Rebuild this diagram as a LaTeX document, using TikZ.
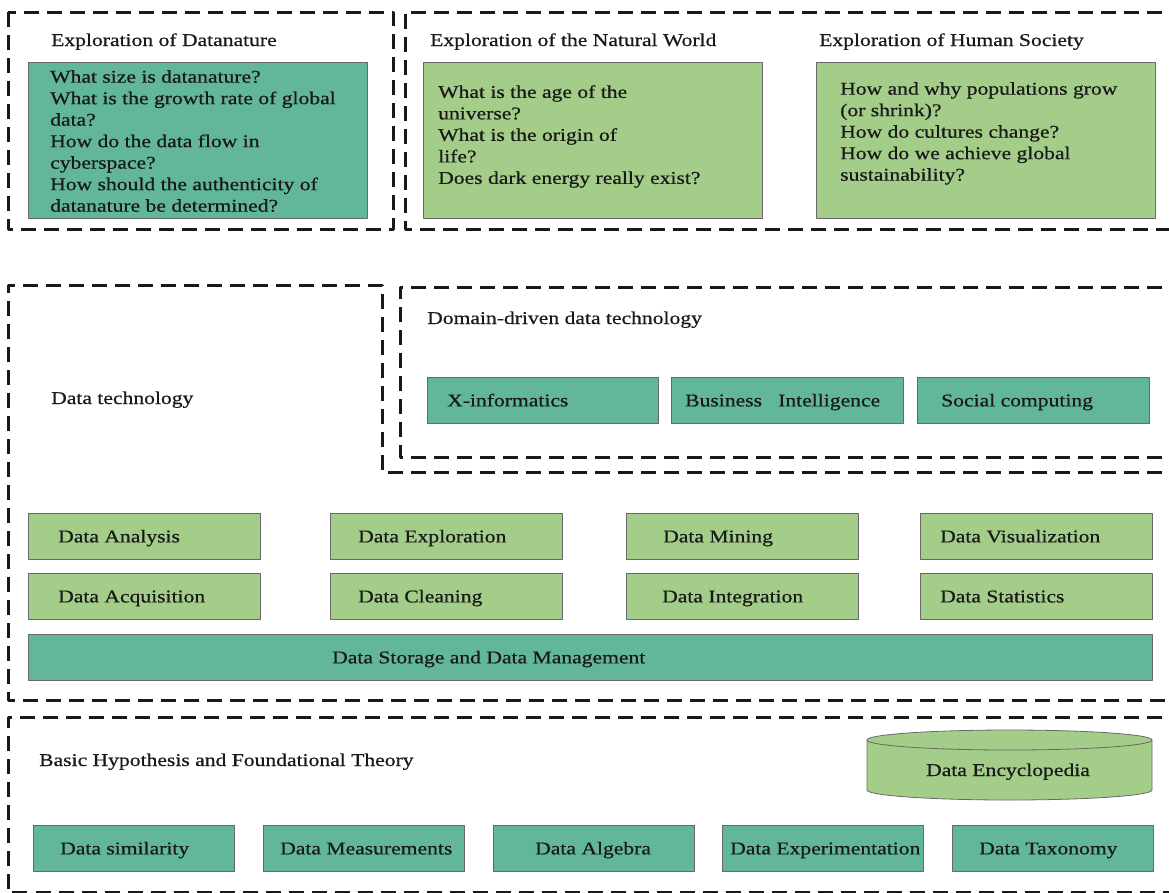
\documentclass[tikz,border=0pt]{standalone}
\usepackage{fontspec}
\setmainfont{Liberation Serif}[FakeStretch=1.2, FakeBold=0.6]
\definecolor{tealfill}{RGB}{97,183,151}
\definecolor{greenfill}{RGB}{163,205,136}
\definecolor{boxedge}{RGB}{105,105,105}
\definecolor{inkc}{RGB}{25,25,25}
\begin{document}
\begin{tikzpicture}[x=1pt, y=-1pt, line join=round,
	font=\fontsize{18}{21.5}\selectfont, text=inkc,
	frame/.style={line width=3pt, dash pattern=on 15pt off 8pt, draw=inkc},
	cell/.style={draw=boxedge, line width=0.8pt, anchor=north west, inner sep=0pt, minimum height=46pt},
	tcell/.style={cell, fill=tealfill},
	gcell/.style={cell, fill=greenfill},
	head/.style={anchor=west, inner sep=0pt, text height=12pt, text depth=0pt},
	qtext/.style={anchor=north west, align=left, inner sep=0pt}]
	\path[use as bounding box, clip] (0,0) rectangle (1169,892);
	% dashed frames
	\draw[frame] (8,12) rectangle (393,229);
	\draw[frame] (1185,12) -- (405,12) -- (405,229) -- (1185,229);
	\draw[frame] (1185,472) -- (382,472) -- (382,285) -- (8,285) -- (8,700) -- (1185,700);
	\draw[frame] (1185,287) -- (400,287) -- (400,457) -- (1185,457);
	\draw[frame] (1185,717) -- (8,717) -- (8,892.5) -- (1185,892.5);
	% top row
	\node[head] (hdata) at (51,40) {Exploration of Datanature};
	\node[head] (hnature) at (430,40) {Exploration of the Natural World};
	\node[head] (hsociety) at (819,40) {Exploration of Human Society};
	\node[tcell, minimum width=339pt, minimum height=156pt] (qdata) at (28,62) {};
	\node[gcell, minimum width=339pt, minimum height=156pt] (qnature) at (423,62) {};
	\node[gcell, minimum width=339pt, minimum height=156pt] (qsociety) at (816,62) {};
	\node[qtext] (qdatat) at (50,70) {What size is datanature?\\What is the growth rate of global\\data?\\How do the data flow in\\cyberspace?\\How should the authenticity of\\datanature be determined?};
	\node[qtext] (qnaturet) at (438,85) {What is the age of the\\universe?\\What is the origin of\\life?\\Does dark energy really exist?};
	\node[qtext] (qsocietyt) at (840,82) {How and why populations grow\\(or shrink)?\\How do cultures change?\\How do we achieve global\\sustainability?};
	% data technology
	\node[head] (htech) at (51,398) {Data technology};
	\node[head] (hdomain) at (427,318) {Domain-driven data technology};
	\foreach \n/\x/\y/\w/\i/\t in {xinf/427/377/231/20/X-informatics, busi/671/377/232/14/Business\ \ \ Intelligence, soci/917/377/232/24/Social computing,
		stor/28/634/1124/304/Data Storage and Data Management}{
		\node[tcell, minimum width=\w pt] (\n) at (\x,\y) {};
		\node[head] (\n t) at ([xshift=\i pt]\n.west) {\t};
	}
	\foreach \n/\x/\y/\i/\t in {ana/28/513/30/Data Analysis, expl/330/513/28/Data Exploration, mini/626/513/37/Data Mining, visu/920/513/20/Data Visualization,
		acqu/28/573/30/Data Acquisition, clea/330/573/28/Data Cleaning, inte/626/573/36/Data Integration, stat/920/573/20/Data Statistics}{
		\node[gcell, minimum width=232pt] (\n) at (\x,\y) {};
		\node[head] (\n t) at ([xshift=\i pt]\n.west) {\t};
	}
	% foundational theory
	\node[head] (htheory) at (39,760) {Basic Hypothesis and Foundational Theory};
	\foreach \n/\x/\i/\t in {simi/33/27/Data similarity, meas/263/17/Data Measurements, alge/493/42/Data Algebra, expe/722/8/Data Experimentation, taxo/952/27/Data Taxonomy}{
		\node[tcell, minimum width=201pt] (\n) at (\x,825) {};
		\node[head] (\n t) at ([xshift=\i pt]\n.west) {\t};
	}
	\draw[draw=boxedge, line width=0.8pt, fill=greenfill] (867,740) -- (867,790) arc[start angle=180, end angle=0, x radius=142.5, y radius=10] -- (1152,740) -- cycle;
	\draw[draw=boxedge, line width=0.8pt, fill=greenfill] (1009.5,740) ellipse [x radius=142.5, y radius=10];
	\node[head, anchor=center] (ency) at (1008,770) {Data Encyclopedia};
\end{tikzpicture}
\end{document}
